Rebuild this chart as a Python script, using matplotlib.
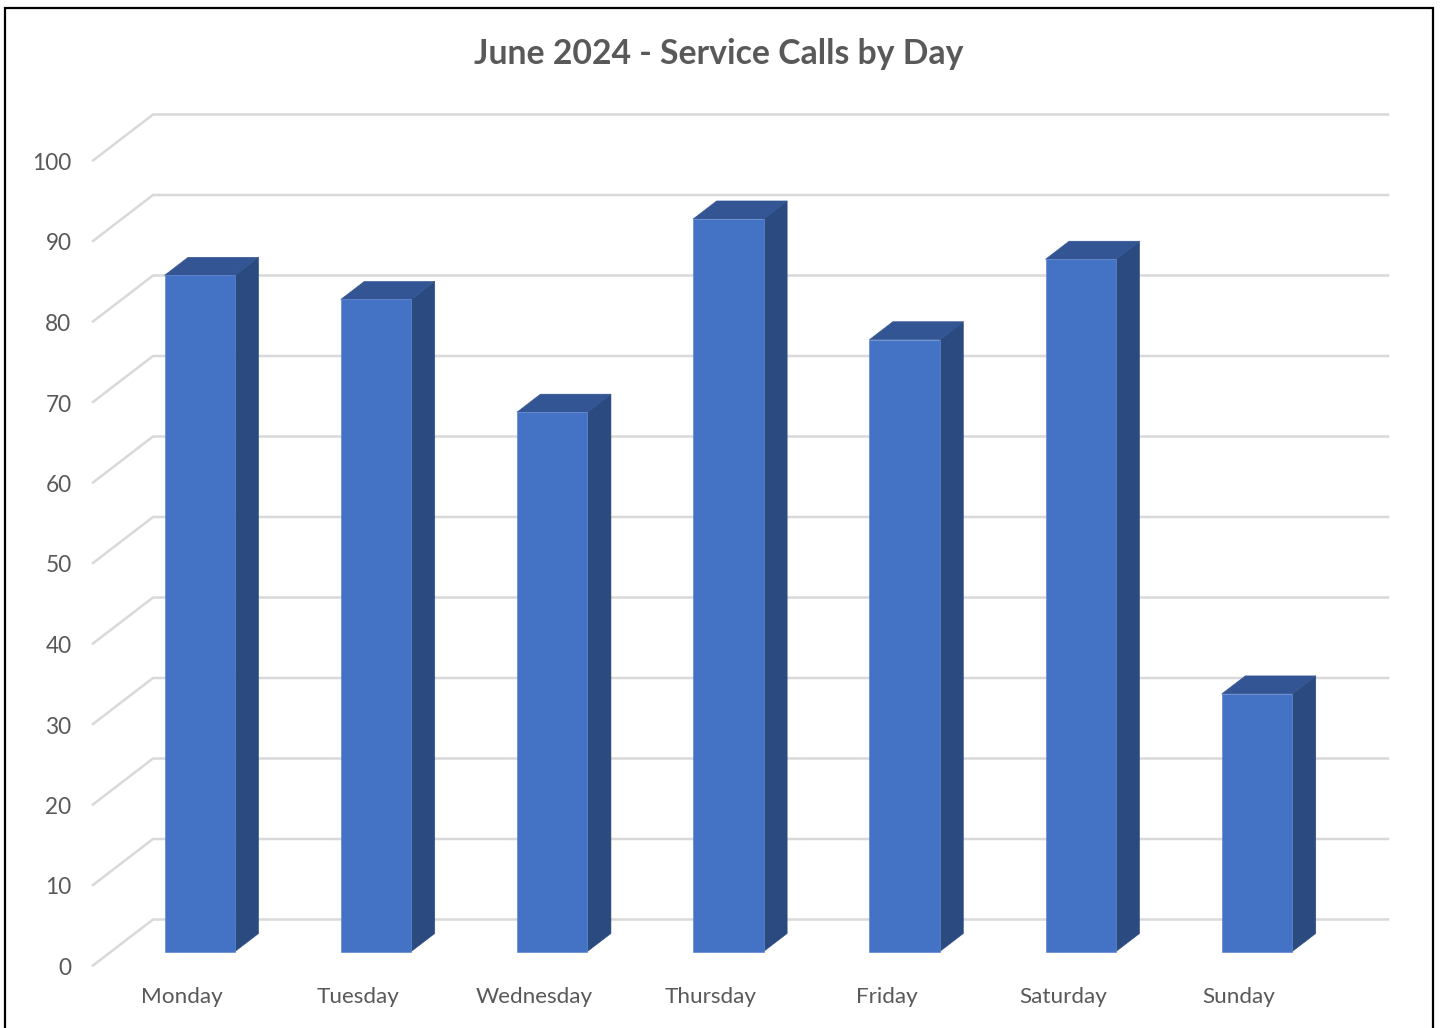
import matplotlib
matplotlib.use("Agg")
import matplotlib.pyplot as plt
from matplotlib.patches import Rectangle
from matplotlib.transforms import ScaledTranslation

days = ["Monday", "Tuesday", "Wednesday", "Thursday", "Friday", "Saturday", "Sunday"]
calls = [84, 81, 67, 91, 76, 86, 32]
y_ticks = [0, 10, 20, 30, 40, 50, 60, 70, 80, 90, 100]
title = "June 2024 - Service Calls by Day"

W, H = 1440, 1028
plt.rcParams["font.family"] = ["Lato", "DejaVu Sans"]
fig = plt.figure(figsize=(W / 100, H / 100), dpi=100, facecolor="white")

# axes: front edge of the floor; value 0 at y=965 px, value 100 at y=160 px
L, R, B, T = 93, 1388, 965.5, 160.5
ax = fig.add_axes([L / W, 1 - B / H, (R - L) / W, (B - T) / H])
SPACING = 176.2
X0 = 199.8
ax.set_xlim((L - X0) / SPACING, (R - X0) / SPACING)
ax.set_ylim(0, 100)
UX = 1 / SPACING              # data units per pixel, x
UY = 100 / (B - T)            # data units per pixel, y

# walls / gridlines
wall_dx, wall_dy = 60 * UX, 46 * UY
x_left = ax.get_xlim()[0]
x_right = ax.get_xlim()[1]
for v in y_ticks:
    ax.plot([x_left, x_left + wall_dx, x_right], [v, v + wall_dy, v + wall_dy],
            color="#D9D9D9", lw=1.8, clip_on=False, zorder=1, solid_joinstyle="miter")

# 3-D bars
positions = list(range(len(days)))
bar_w = 70.5 * UX
lift = 14 * UY
dx, dy = 23.5 * UX, 18 * UY
ax.bar(positions, calls, width=bar_w, bottom=lift, color="#4472C4",
       edgecolor="#5F88D0", linewidth=0.5, zorder=4, clip_on=False)
for p, v in zip(positions, calls):
    xl, xr = p - bar_w / 2, p + bar_w / 2
    top = v + lift
    ax.fill([xr, xr + dx, xr + dx, xr], [lift, lift + dy, top + dy, top],
            color="#2A4A80", lw=0.4, zorder=3, clip_on=False)
    ax.fill([xl, xl + dx, xr + dx, xr], [top, top + dy, top + dy, top],
            color="#335593", lw=0.4, zorder=3, clip_on=False)

# axis labels
ax.set_yticks(y_ticks)
ax.set_yticklabels([str(v) for v in y_ticks])
ax.set_xticks([p - 18 * UX for p in positions])
ax.set_xticklabels(days)
ax.tick_params(axis="y", length=0, pad=15.5, labelsize=16.3, labelcolor="#595959")
ax.tick_params(axis="x", length=0, pad=15.5, labelsize=16.2, labelcolor="#595959")
shift = ScaledTranslation(0, -1.0 / 100, fig.dpi_scale_trans)
for lab in ax.get_yticklabels():
    lab.set_transform(lab.get_transform() + shift)
for s in ax.spines.values():
    s.set_visible(False)
ax.patch.set_alpha(0)

fig.text(719 / W, 1 - 54 / H, title, ha="center", va="center",
         fontsize=24.3, fontweight="bold", color="#595959")

# outer border (runs off the bottom of the picture)
fig.add_artist(Rectangle((5 / W, -0.01), (1433 - 5) / W, 1.01 - 8 / H, transform=fig.transFigure,
                         fill=False, edgecolor="black", linewidth=1.6))

fig.savefig("out.png", dpi=100, facecolor="white")
